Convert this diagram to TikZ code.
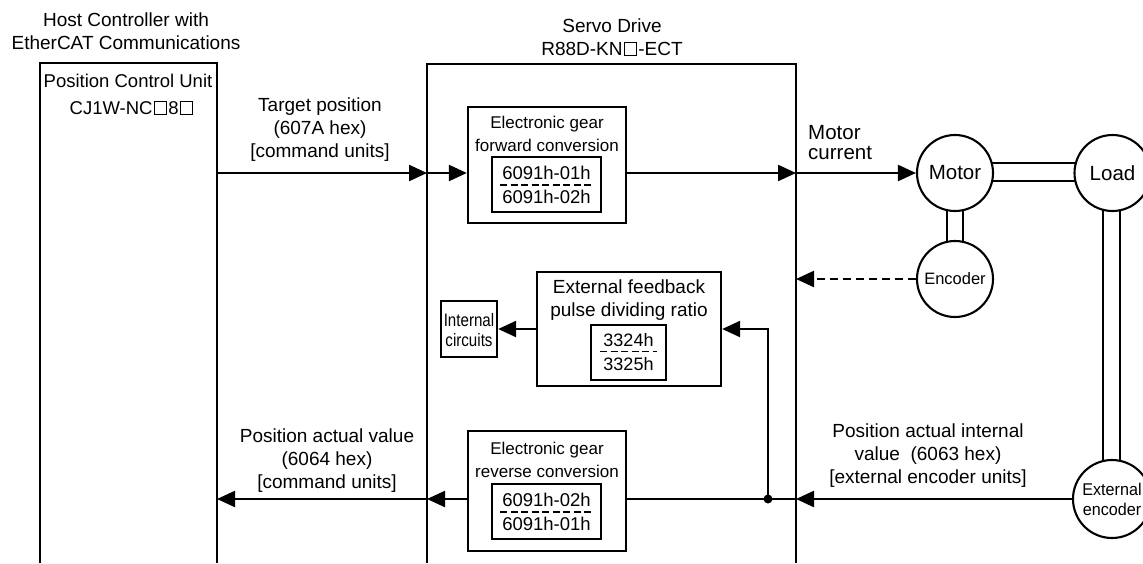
\documentclass[tikz,border=0pt]{standalone}
\usepackage{fontspec}
\setmainfont{Liberation Sans}
\usetikzlibrary{arrows.meta}
\newcommand\sqr{\kern1.2pt{\setlength\fboxsep{0pt}\setlength\fboxrule{0.9pt}\fbox{\rule{0pt}{12.5pt}\rule{11.5pt}{0pt}}}\kern1.2pt}
\begin{document}
\begin{tikzpicture}[x=1pt,y=-1pt,
  lw/.style={line width=2.3pt},
  arr/.style={lw,-{Triangle[length=18pt,width=16pt]}},
  box/.style={draw,lw,fill=white,inner sep=0pt},
  circ/.style={circle,draw,line width=2.1pt,fill=white,inner sep=0pt,minimum size=76pt},
  shaft/.style={draw,line width=1.8pt,fill=white},
  frac/.style={line width=1.5pt,dash pattern=on 7pt off 3.5pt},
  txt/.style={align=center,inner sep=0pt,font=\fontsize{19}{23}\selectfont},
  btxt/.style={align=center,inner sep=0pt,font=\fontsize{17}{23}\selectfont},
  ftxt/.style={inner sep=0pt,font=\fontsize{18.5}{22}\selectfont}]
\useasboundingbox (0,0) rectangle (1143,563);

% host controller and servo drive frames (open at the bottom)
\draw[lw] (40,563) |- (217,63) -- (217,563);
\draw[lw] (427,563) |- (796,64) -- (796,563);
\node[txt] (hosttitle) at (126,31) {Host Controller with\\EtherCAT Communications};
\node[txt,font=\fontsize{18.5}{23}\selectfont] (pcu) at (128,81) {Position Control Unit};
\node[txt,font=\fontsize{18.5}{23}\selectfont] (pcutype) at (132,108) {CJ1W-NC\sqr8\sqr};
\node[txt] (servotitle) at (612,37.5) {Servo Drive\\R88D-KN\sqr-ECT};

% boundary points
\coordinate (hR1) at (217,173);
\coordinate (sL1) at (427,173);
\coordinate (sR1) at (796,173);
\coordinate (sR2) at (796,279);
\coordinate (sR3) at (796,499);
\coordinate (sL3) at (427,499);
\coordinate (hR3) at (217,499);
\coordinate (jn) at (768,499);

% electronic gear forward
\node[box,minimum width=158pt,minimum height=116pt] (fwd) at (547,165) {};
\node[btxt] (fwdt) at (547,133.5) {Electronic gear\\forward conversion};
\node[box,minimum width=109pt,minimum height=55pt] (fwdi) at (546.5,184.5) {};
\node[ftxt] (fwdn) at (546.5,173) {6091h-01h};
\node[ftxt] (fwdd) at (546.5,197) {6091h-02h};
\draw[frac] (500,185) -- (594,185);

% external feedback pulse dividing ratio
\node[box,minimum width=184pt,minimum height=114pt] (fb) at (629,329) {};
\node[txt] (fbt) at (629,300.5) {External feedback\\pulse dividing ratio};
\node[box,minimum width=75pt,minimum height=55pt] (fbi) at (628.5,352.5) {};
\node[ftxt,font=\fontsize{18}{22}\selectfont] (fbn) at (628.5,340) {3324h};
\node[ftxt,font=\fontsize{18}{22}\selectfont] (fbd) at (628.5,364) {3325h};
\draw[frac] (600,351.5) -- (657,351.5);

% internal circuits
\node[box,minimum width=56pt,minimum height=56pt] (int) at (469,329) {};
\node[inner sep=0pt,align=center,font=\fontsize{18}{20}\selectfont] (intt) at (469,330)
  {\scalebox{0.84}[1]{Internal}\\\scalebox{0.84}[1]{circuits}};

% electronic gear reverse
\node[box,minimum width=158pt,minimum height=120pt] (rev) at (547,491) {};
\node[btxt] (revt) at (547,460) {Electronic gear\\reverse conversion};
\node[box,minimum width=109pt,minimum height=55pt] (revi) at (546.5,511.5) {};
\node[ftxt] (revn) at (546.5,500) {6091h-02h};
\node[ftxt] (revd) at (546.5,523.5) {6091h-01h};
\draw[frac] (500,512) -- (594,512);

% shafts
\draw[shaft] (985,163) rectangle (1085,181);
\draw[shaft] (947,200) rectangle (963,250);
\draw[shaft] (1103,200) rectangle (1120,470);

% motor, load, encoders
\node[circ,font=\fontsize{20.5}{22}\selectfont] (motor) at (955,173) {Motor};
\node[circ,font=\fontsize{20.5}{22}\selectfont] (load) at (1112.5,173) {Load};
\node[circ,font=\fontsize{16.5}{20}\selectfont] (enc) at (955,279) {Encoder};
\node[circ,minimum size=78pt,align=center,font=\fontsize{17}{20}\selectfont] (ext) at (1112,499) {\scalebox{0.95}[1]{External}\\\scalebox{0.95}[1]{encoder}};

% labels
\node[txt] (tp) at (320,130) {Target position\\(607A hex)\\[0pt][command units]};
\node[txt,align=left,font=\fontsize{20.5}{20}\selectfont,anchor=west] (mc) at (808,143) {Motor\\current};
\node[txt] (pav) at (327,461) {Position actual value\\(6064 hex)\\[0pt][command units]};
\node[txt] (pai) at (928,456) {Position actual internal\\value\ \ (6063 hex)\\[0pt][external encoder units]};

% connectors
\draw[arr] (hR1) -- (sL1);
\draw[arr] (sL1) -- (sL1 -| fwd.west);
\draw[arr] (fwd.east |- sR1) -- (sR1);
\draw[arr] (sR1) -- (motor.west);
\draw[arr,dash pattern=on 8pt off 5pt] (enc.west) -- (sR2);
\draw[arr] (fb.west) -- (int.east);
\draw[arr] (jn) |- (fb.east);
\draw[arr] (ext.west) -- (sR3);
\draw[lw] (sR3) -- (rev.east |- sR3);
\draw[arr] (rev.west |- sL3) -- (sL3);
\draw[arr] (sL3) -- (hR3);
\fill (jn) circle (4.5pt);
\end{tikzpicture}
\end{document}
